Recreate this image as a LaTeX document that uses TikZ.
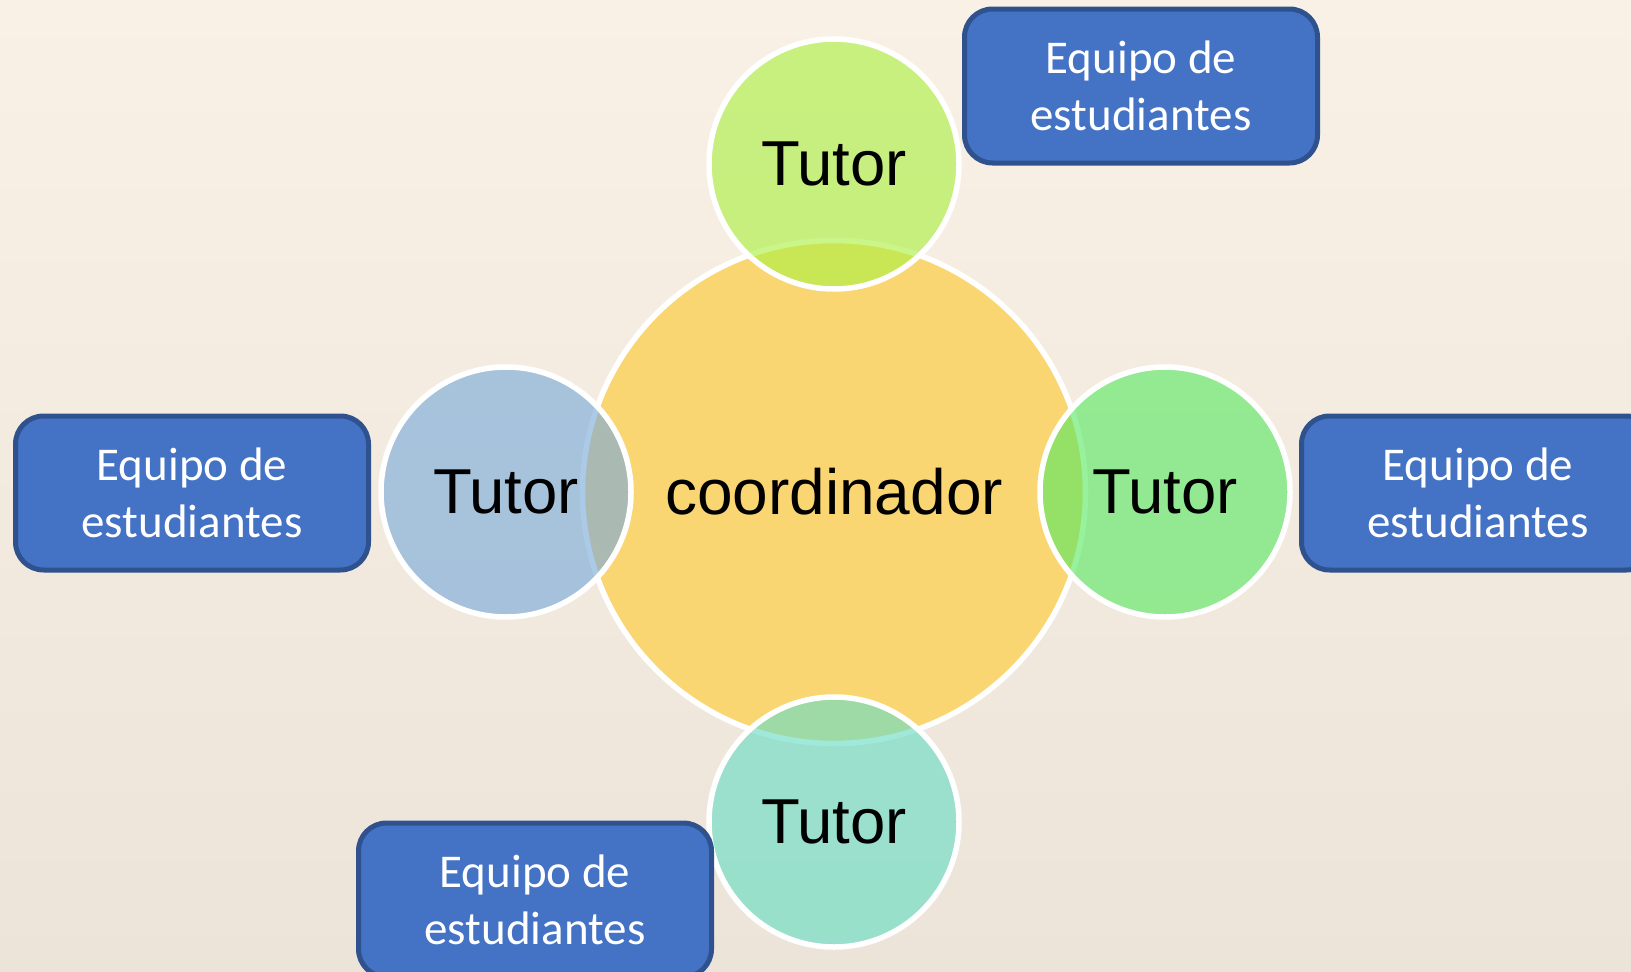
\documentclass[tikz,border=0pt]{standalone}
\usepackage{fontspec}
\setmainfont{Liberation Sans}
\newfontfamily\calib{Carlito}
\definecolor{bgtop}{RGB}{249,241,230}
\definecolor{bgbot}{RGB}{236,228,216}
\definecolor{coord}{RGB}{250,214,115}
\definecolor{ctop}{RGB}{171,240,65}
\definecolor{cleft}{RGB}{121,170,218}
\definecolor{cright}{RGB}{88,233,98}
\definecolor{cbot}{RGB}{103,221,196}
\definecolor{boxfill}{RGB}{68,114,196}
\definecolor{boxline}{RGB}{47,82,143}
\tikzset{
  tutor/.style={circle, draw=white, line width=5.5pt, minimum size=250pt, inner sep=0pt,
    fill opacity=0.62, text opacity=1, font=\fontsize{63.5}{75}\selectfont},
  team/.style={rectangle, rounded corners=28pt, fill=boxfill, draw=boxline, line width=5pt,
    minimum width=353pt, minimum height=154pt, inner sep=0pt, align=center, text=white,
    font=\calib\fontsize{47}{57}\selectfont}
}
\begin{document}
\begin{tikzpicture}[x=1pt,y=-1pt]
\useasboundingbox (0,0) rectangle (1631,972);
\shade[top color=bgtop, bottom color=bgbot] (0,0) rectangle (1631,972);
\clip (0,0) rectangle (1631,972);
\node[circle, draw=white, line width=5.5pt, fill=coord, minimum size=503pt, inner sep=0pt,
  font=\fontsize{64}{75}\selectfont] (c) at (834,492) {coordinador};
\node[tutor, fill=ctop] (t1) at (834,164) {Tutor};
\node[tutor, fill=cleft] (t2) at (506,492) {Tutor};
\node[tutor, fill=cright] (t3) at (1165,492) {Tutor};
\node[tutor, fill=cbot] (t4) at (834,822) {Tutor};
\node[team] (e1) at (1141,86) {Equipo de\\estudiantes};
\node[team] (e2) at (192,493) {Equipo de\\estudiantes};
\node[team] (e3) at (1478,493) {Equipo de\\estudiantes};
\node[team] (e4) at (535,900) {Equipo de\\estudiantes};
\end{tikzpicture}
\end{document}
